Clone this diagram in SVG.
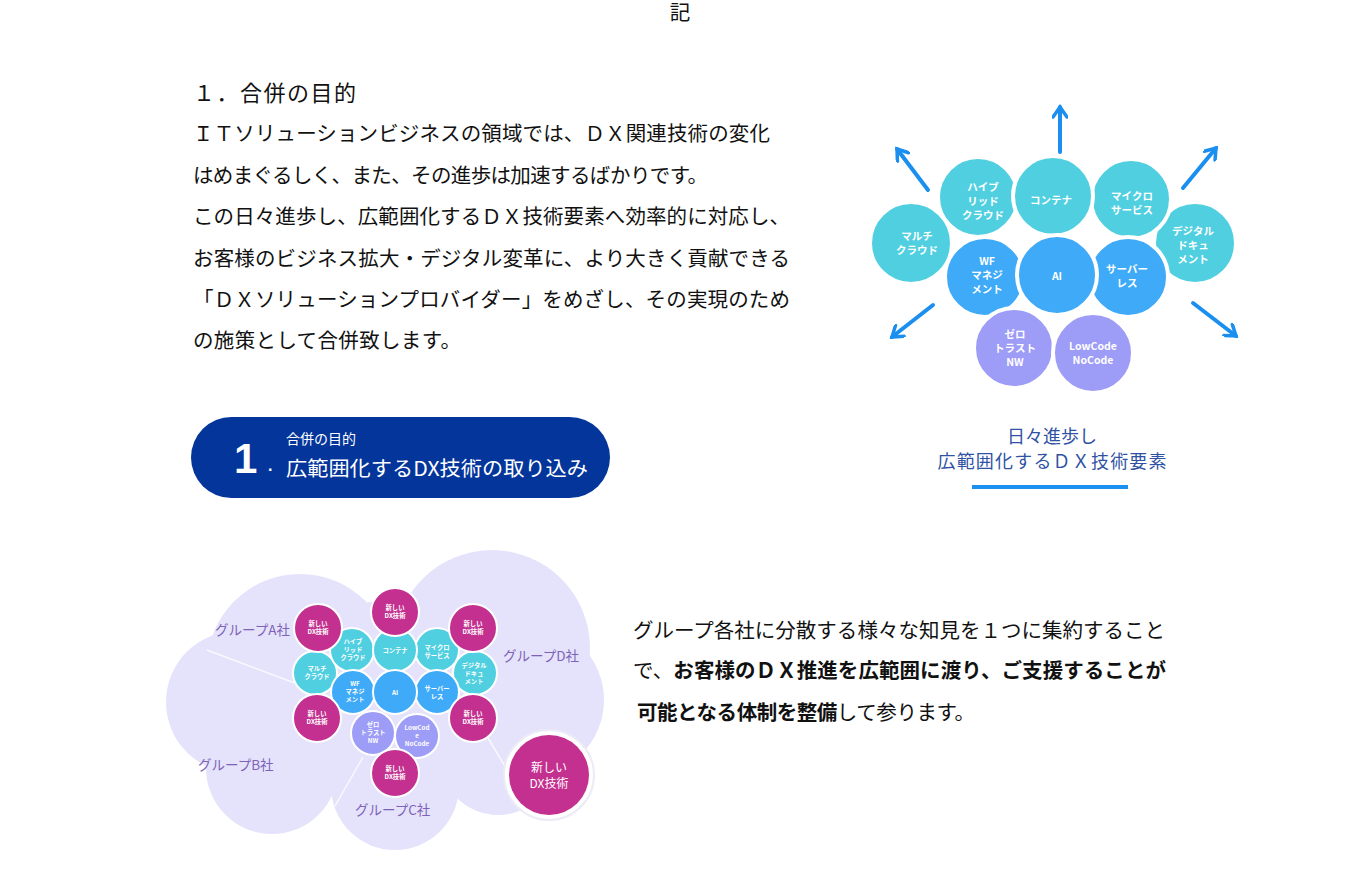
<svg xmlns="http://www.w3.org/2000/svg" width="1358" height="872" viewBox="0 0 1358 872">
<style>
.body{font-family:"Liberation Serif","Noto Sans CJK JP",serif;font-size:20.5px;fill:#111}
.b{font-weight:bold}
.cl{font-family:"Noto Sans CJK JP","Liberation Sans",sans-serif;font-weight:bold;font-size:10.5px;fill:#fff;text-anchor:middle}
.cs{font-family:"Noto Sans CJK JP","Liberation Sans",sans-serif;font-weight:bold;font-size:6.3px;fill:#fff;text-anchor:middle}
.teal{fill:#50cfe0;stroke:#fff;stroke-width:4}
.blue{fill:#3eaaf8;stroke:#fff;stroke-width:4}
.purp{fill:#9d9cf6;stroke:#fff;stroke-width:4}
.steal{fill:#50cfe0;stroke:#fff;stroke-width:2}
.sblue{fill:#3eaaf8;stroke:#fff;stroke-width:2}
.spurp{fill:#9d9cf6;stroke:#fff;stroke-width:2}
.mag{fill:#c3308f;stroke:#fff;stroke-width:2}
.grp{font-family:"Noto Sans CJK JP","Liberation Sans",sans-serif;font-size:13.5px;fill:#7e62b8}
.arr{stroke:#1a8ff0;stroke-width:4;fill:none;stroke-linecap:round}
.cap{font-family:"Noto Sans CJK JP","Liberation Sans",sans-serif;font-size:18px;fill:#2f52a4;text-anchor:middle}
</style>
<defs>
<marker id="ah" viewBox="0 0 16 16" refX="13" refY="8" markerWidth="16" markerHeight="16" markerUnits="userSpaceOnUse" orient="auto">
<path d="M3,1 L13,8 L3,15" fill="none" stroke="#1a8ff0" stroke-width="3.5" stroke-linecap="round"/>
</marker>
</defs>
<rect width="1358" height="872" fill="#fff"/>

<g id="heading">
<text x="680" y="20" class="body" text-anchor="middle">記</text>
</g>

<g id="section-text">
<text x="193" y="101" class="body" style="font-size:22px" textLength="163" lengthAdjust="spacing">１．合併の目的</text>
<text x="193" y="141" class="body" textLength="577" lengthAdjust="spacing">ＩＴソリューションビジネスの領域では、ＤＸ関連技術の変化</text>
<text x="193" y="183" class="body" textLength="515" lengthAdjust="spacing">はめまぐるしく、また、その進歩は加速するばかりです。</text>
<text x="193" y="224" class="body" textLength="597" lengthAdjust="spacing">この日々進歩し、広範囲化するＤＸ技術要素へ効率的に対応し、</text>
<text x="193" y="266" class="body" textLength="597" lengthAdjust="spacing">お客様のビジネス拡大・デジタル変革に、より大きく貢献できる</text>
<text x="193" y="307" class="body" textLength="597" lengthAdjust="spacing">「ＤＸソリューションプロバイダー」をめざし、その実現のため</text>
<text x="193" y="348" class="body" textLength="268" lengthAdjust="spacing">の施策として合併致します。</text>
</g>

<g id="banner">
<rect x="191" y="417" width="419" height="81" rx="40.5" fill="#03359b"/>
<text x="234" y="473" font-family="Liberation Sans,Arial,sans-serif" font-weight="bold" font-size="42" fill="#fff">1</text>
<text x="268" y="471" font-family="Liberation Sans,Arial,sans-serif" font-weight="bold" font-size="16" fill="#fff">.</text>
<text x="286" y="444" font-family="Noto Sans CJK JP,Liberation Sans,sans-serif" font-size="14" fill="#fff">合併の目的</text>
<text x="286" y="476" font-family="Noto Sans CJK JP,Liberation Sans,sans-serif" font-size="20.5" fill="#fff" textLength="302" lengthAdjust="spacingAndGlyphs">広範囲化するDX技術の取り込み</text>
</g>

<g id="connectors">
<line class="arr" x1="1060" y1="152" x2="1060" y2="107" marker-end="url(#ah)"/>
<line class="arr" x1="928" y1="190" x2="897" y2="149" marker-end="url(#ah)"/>
<line class="arr" x1="1183" y1="188" x2="1216" y2="148" marker-end="url(#ah)"/>
<line class="arr" x1="933" y1="305" x2="892" y2="337" marker-end="url(#ah)"/>
<line class="arr" x1="1193" y1="303" x2="1236" y2="336" marker-end="url(#ah)"/>
</g>

<g id="dx-cluster">
<g id="n-multicloud"><circle class="teal" cx="911" cy="243" r="41"/><text class="cl" x="917" y="240">マルチ</text><text class="cl" x="917" y="254">クラウド</text></g>
<g id="n-hybrid"><circle class="teal" cx="978" cy="197" r="40"/><text class="cl" x="983" y="191">ハイブ</text><text class="cl" x="983" y="205">リッド</text><text class="cl" x="983" y="219">クラウド</text></g>
<g id="n-digital"><circle class="teal" cx="1195" cy="243" r="41"/><text class="cl" x="1193" y="235">デジタル</text><text class="cl" x="1193" y="249">ドキュ</text><text class="cl" x="1193" y="263">メント</text></g>
<g id="n-micro"><circle class="teal" cx="1131" cy="199" r="40"/><text class="cl" x="1132" y="200">マイクロ</text><text class="cl" x="1132" y="214">サービス</text></g>
<g id="n-container"><circle class="teal" cx="1053" cy="196" r="40"/><text class="cl" x="1051" y="204">コンテナ</text></g>
<g id="n-wf"><circle class="blue" cx="985" cy="277" r="40"/><text class="cl" x="987" y="265">WF</text><text class="cl" x="987" y="279">マネジ</text><text class="cl" x="987" y="293">メント</text></g>
<g id="n-serverless"><circle class="blue" cx="1128" cy="277" r="40"/><text class="cl" x="1127" y="273">サーバー</text><text class="cl" x="1127" y="287">レス</text></g>
<g id="n-ai"><circle class="blue" cx="1057" cy="275" r="40"/><text class="cl" x="1057" y="280">AI</text></g>
<g id="n-zerotrust"><circle class="purp" cx="1014" cy="348" r="40"/><text class="cl" x="1015" y="338">ゼロ</text><text class="cl" x="1015" y="352">トラスト</text><text class="cl" x="1015" y="366">NW</text></g>
<g id="n-lowcode"><circle class="purp" cx="1093" cy="353" r="40"/><text class="cl" x="1093" y="350">LowCode</text><text class="cl" x="1093" y="364">NoCode</text></g>
</g>

<g id="caption">
<text class="cap" x="1052" y="443">日々進歩し</text>
<text class="cap" x="1052" y="468" textLength="229" lengthAdjust="spacing">広範囲化するＤＸ技術要素</text>
<rect x="972" y="485" width="156" height="4" fill="#1a90f0"/>
</g>

<g id="group-cloud">
<g fill="#e4e3fb">
<circle cx="300" cy="667" r="93"/>
<circle cx="492" cy="648" r="98"/>
<circle cx="528" cy="700" r="76"/>
<circle cx="237" cy="702" r="71"/>
<circle cx="272" cy="768" r="66"/>
<circle cx="395" cy="786" r="64"/>
<circle cx="498" cy="757" r="58"/>
<circle cx="390" cy="705" r="105"/>
</g>
<g stroke="#fff" stroke-width="1.5" opacity="0.8">
<line x1="207" y1="650" x2="300" y2="685"/>
<line x1="393" y1="570" x2="413" y2="597"/>
<line x1="363" y1="757" x2="335" y2="806"/>
<line x1="488" y1="738" x2="512" y2="778"/>
</g>
<text class="grp" x="215" y="635">グループA社</text>
<text class="grp" x="503" y="661">グループD社</text>
<text class="grp" x="198" y="770">グループB社</text>
<text class="grp" x="355" y="815">グループC社</text>
</g>

<g id="group-cluster">
<g id="s-multicloud"><circle class="steal" cx="315" cy="673" r="22"/><text class="cs" x="317" y="671">マルチ</text><text class="cs" x="317" y="679">クラウド</text></g>
<g id="s-hybrid"><circle class="steal" cx="352" cy="650" r="22"/><text class="cs" x="353" y="644">ハイブ</text><text class="cs" x="353" y="652">リッド</text><text class="cs" x="353" y="660">クラウド</text></g>
<g id="s-digital"><circle class="steal" cx="475" cy="673" r="22"/><text class="cs" x="474" y="668">デジタル</text><text class="cs" x="474" y="676">ドキュ</text><text class="cs" x="474" y="684">メント</text></g>
<g id="s-micro"><circle class="steal" cx="437" cy="650" r="22"/><text class="cs" x="437" y="650">マイクロ</text><text class="cs" x="437" y="658">サービス</text></g>
<g id="s-container"><circle class="steal" cx="395" cy="650" r="22"/><text class="cs" x="395" y="653">コンテナ</text></g>
<g id="s-wf"><circle class="sblue" cx="353" cy="692" r="22"/><text class="cs" x="355" y="686">WF</text><text class="cs" x="355" y="694">マネジ</text><text class="cs" x="355" y="702">メント</text></g>
<g id="s-serverless"><circle class="sblue" cx="437" cy="692" r="22"/><text class="cs" x="437" y="691">サーバー</text><text class="cs" x="437" y="699">レス</text></g>
<g id="s-ai"><circle class="sblue" cx="395" cy="692" r="22"/><text class="cs" x="395" y="695">AI</text></g>
<g id="s-zerotrust"><circle class="spurp" cx="373" cy="733" r="22"/><text class="cs" x="373" y="727">ゼロ</text><text class="cs" x="373" y="735">トラスト</text><text class="cs" x="373" y="743">NW</text></g>
<g id="s-lowcode"><circle class="spurp" cx="417" cy="736" r="22"/><text class="cs" x="417" y="730">LowCod</text><text class="cs" x="417" y="738">e</text><text class="cs" x="417" y="746">NoCode</text></g>
<g id="m1"><circle class="mag" cx="318" cy="628" r="24"/><text class="cs" x="318" y="626">新しい</text><text class="cs" x="318" y="634">DX技術</text></g>
<g id="m2"><circle class="mag" cx="395" cy="612" r="24"/><text class="cs" x="395" y="610">新しい</text><text class="cs" x="395" y="618">DX技術</text></g>
<g id="m3"><circle class="mag" cx="473" cy="628" r="24"/><text class="cs" x="473" y="626">新しい</text><text class="cs" x="473" y="634">DX技術</text></g>
<g id="m4"><circle class="mag" cx="317" cy="718" r="24"/><text class="cs" x="317" y="716">新しい</text><text class="cs" x="317" y="724">DX技術</text></g>
<g id="m5"><circle class="mag" cx="473" cy="718" r="24"/><text class="cs" x="473" y="716">新しい</text><text class="cs" x="473" y="724">DX技術</text></g>
<g id="m6"><circle class="mag" cx="395" cy="773" r="24"/><text class="cs" x="395" y="771">新しい</text><text class="cs" x="395" y="779">DX技術</text></g>
<g id="m-big">
<circle cx="549" cy="775" r="45" fill="#fff" stroke="#ecebf6" stroke-width="2"/>
<circle cx="549" cy="775" r="40" fill="#c3308f"/>
<text x="549" y="772" font-family="Noto Sans CJK JP,Liberation Sans,sans-serif" font-size="12" fill="#fff" text-anchor="middle">新しい</text>
<text x="549" y="788" font-family="Noto Sans CJK JP,Liberation Sans,sans-serif" font-size="12" fill="#fff" text-anchor="middle">DX技術</text>
</g>
</g>

<g id="right-text">
<text x="633" y="638" class="body" textLength="532" lengthAdjust="spacing">グループ各社に分散する様々な知見を１つに集約すること</text>
<text x="633" y="678" class="body" textLength="533" lengthAdjust="spacing">で、<tspan class="b">お客様のＤＸ推進を広範囲に渡り、ご支援することが</tspan></text>
<text x="637" y="720" class="body" textLength="338" lengthAdjust="spacing"><tspan class="b">可能となる体制を整備</tspan>して参ります。</text>
</g>
</svg>
